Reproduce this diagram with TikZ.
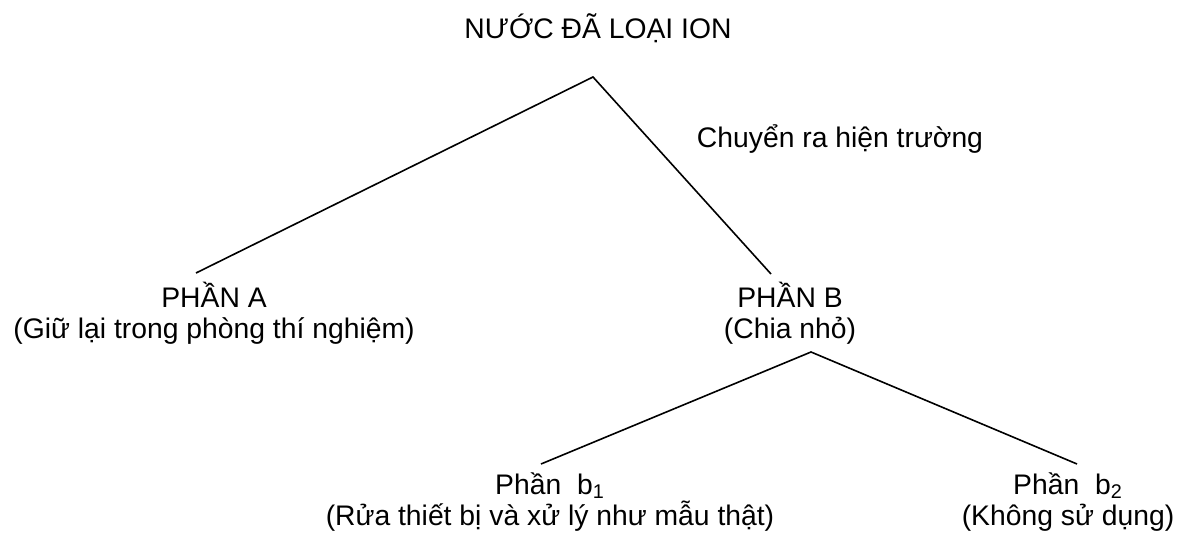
\documentclass[tikz,border=0pt]{standalone}
\usepackage{fontspec}
\setmainfont{Liberation Sans}
\usetikzlibrary{positioning}

\begin{document}
\begin{tikzpicture}[x=0.5pt,y=-0.5pt,
  lbl/.style={align=center,inner sep=0pt,font=\fontsize{14.15}{15.5}\selectfont},
  branch/.style={line width=0.8pt}]
  \useasboundingbox (0,0) rectangle (1183,534);

  % labels (base = last line)
  \node[lbl,anchor=base] (water) at (598,39) {NƯỚC ĐÃ LOẠI ION};
  \node[lbl,anchor=base] (field) at (840,148) {Chuyển ra hiện trường};
  \node[lbl,anchor=base] (partA) at (214,338) {PHẦN A\\(Giữ lại trong phòng thí nghiệm)};
  \node[lbl,anchor=base] (partB) at (790,338) {PHẦN B\\(Chia nhỏ)};
  \node[lbl,anchor=base] (partBa) at (550,525) {Phần\ \ b\textsubscript{1}\\(Rửa thiết bị và xử lý như mẫu thật)};
  \node[lbl,anchor=base] (partBb) at (1068,525) {Phần\ \ b\textsubscript{2}\\(Không sử dụng)};

  % branch points
  \coordinate (fork) at (593,77);
  \coordinate (forkA) at (196,273);
  \coordinate (forkB) at (771,274);
  \coordinate (split) at (811,352);
  \coordinate (splitA) at (541,464);
  \coordinate (splitB) at (1077,464);

  \draw[branch] (forkA) -- (fork) -- (forkB);
  \draw[branch] (splitA) -- (split) -- (splitB);
\end{tikzpicture}
\end{document}
